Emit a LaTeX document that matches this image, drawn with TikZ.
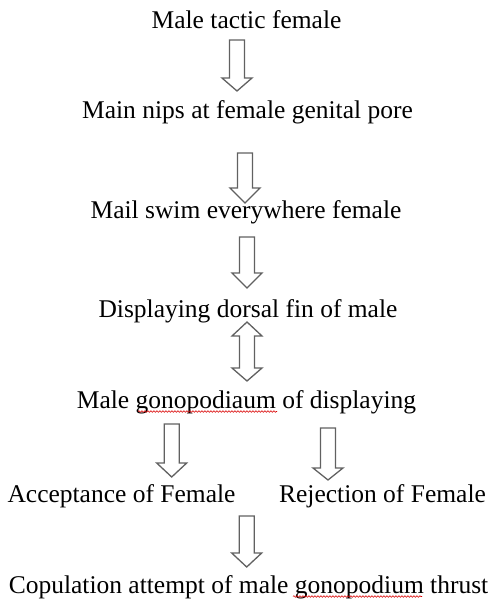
\documentclass[tikz,border=0pt]{standalone}
\usepackage{fontspec}
\setmainfont{Liberation Serif}
\usetikzlibrary{decorations.pathmorphing}
\tikzset{
  lbl/.style={anchor=base, inner sep=0pt, font=\fontsize{25.5}{28}\selectfont},
  blockarrow/.style={draw=black!62, line width=1.3pt, fill=white, line join=miter},
  spell/.style={draw=red!85!black, line width=0.6pt, decorate,
    decoration={snake, segment length=3pt, amplitude=0.8pt}}
}
% down block arrow: cx, top, head base, tip
\newcommand{\downblk}[4]{%
  \draw[blockarrow] (#1-7.5,#2) -- (#1+7.5,#2) -- (#1+7.5,#3) -- (#1+15,#3)
    -- (#1,#4) -- (#1-15,#3) -- (#1-7.5,#3) -- cycle;}
\begin{document}
\begin{tikzpicture}[x=1pt, y=-1pt]
\useasboundingbox (0,0) rectangle (487,599);
\node[lbl] (t1) at (246.5,29) {Male tactic female};
\node[lbl] (t2) at (247.5,118) {Main nips at female genital pore};
\node[lbl] (t3) at (246,218) {Mail swim everywhere female};
\node[lbl] (t4) at (248,317) {Displaying dorsal fin of male};
\node[lbl] (t5) at (246.5,408) {Male gonopodiaum of displaying};
\node[lbl] (t6) at (121.5,502) {Acceptance of Female};
\node[lbl] (t7) at (382.5,502) {Rejection of Female};
\node[lbl] (t8) at (248.5,593) {Copulation attempt of male gonopodium thrust};
% block arrows
\downblk{237}{40}{78}{91}
\downblk{245}{153}{188}{203}
\downblk{247}{237}{273}{288}
\draw[blockarrow] (247,322) -- (262,336) -- (254.5,336) -- (254.5,368) -- (262,368)
  -- (247,381) -- (232,368) -- (239.5,368) -- (239.5,336) -- (232,336) -- cycle;
\downblk{171.7}{424}{463}{477}
\downblk{328}{428}{468}{480}
\downblk{246.7}{516}{553}{567}
% spell-check underlines
\draw[spell] (138,411.5) -- (277,411.5);
\draw[spell] (293,596.5) -- (422,596.5);
\end{tikzpicture}
\end{document}
